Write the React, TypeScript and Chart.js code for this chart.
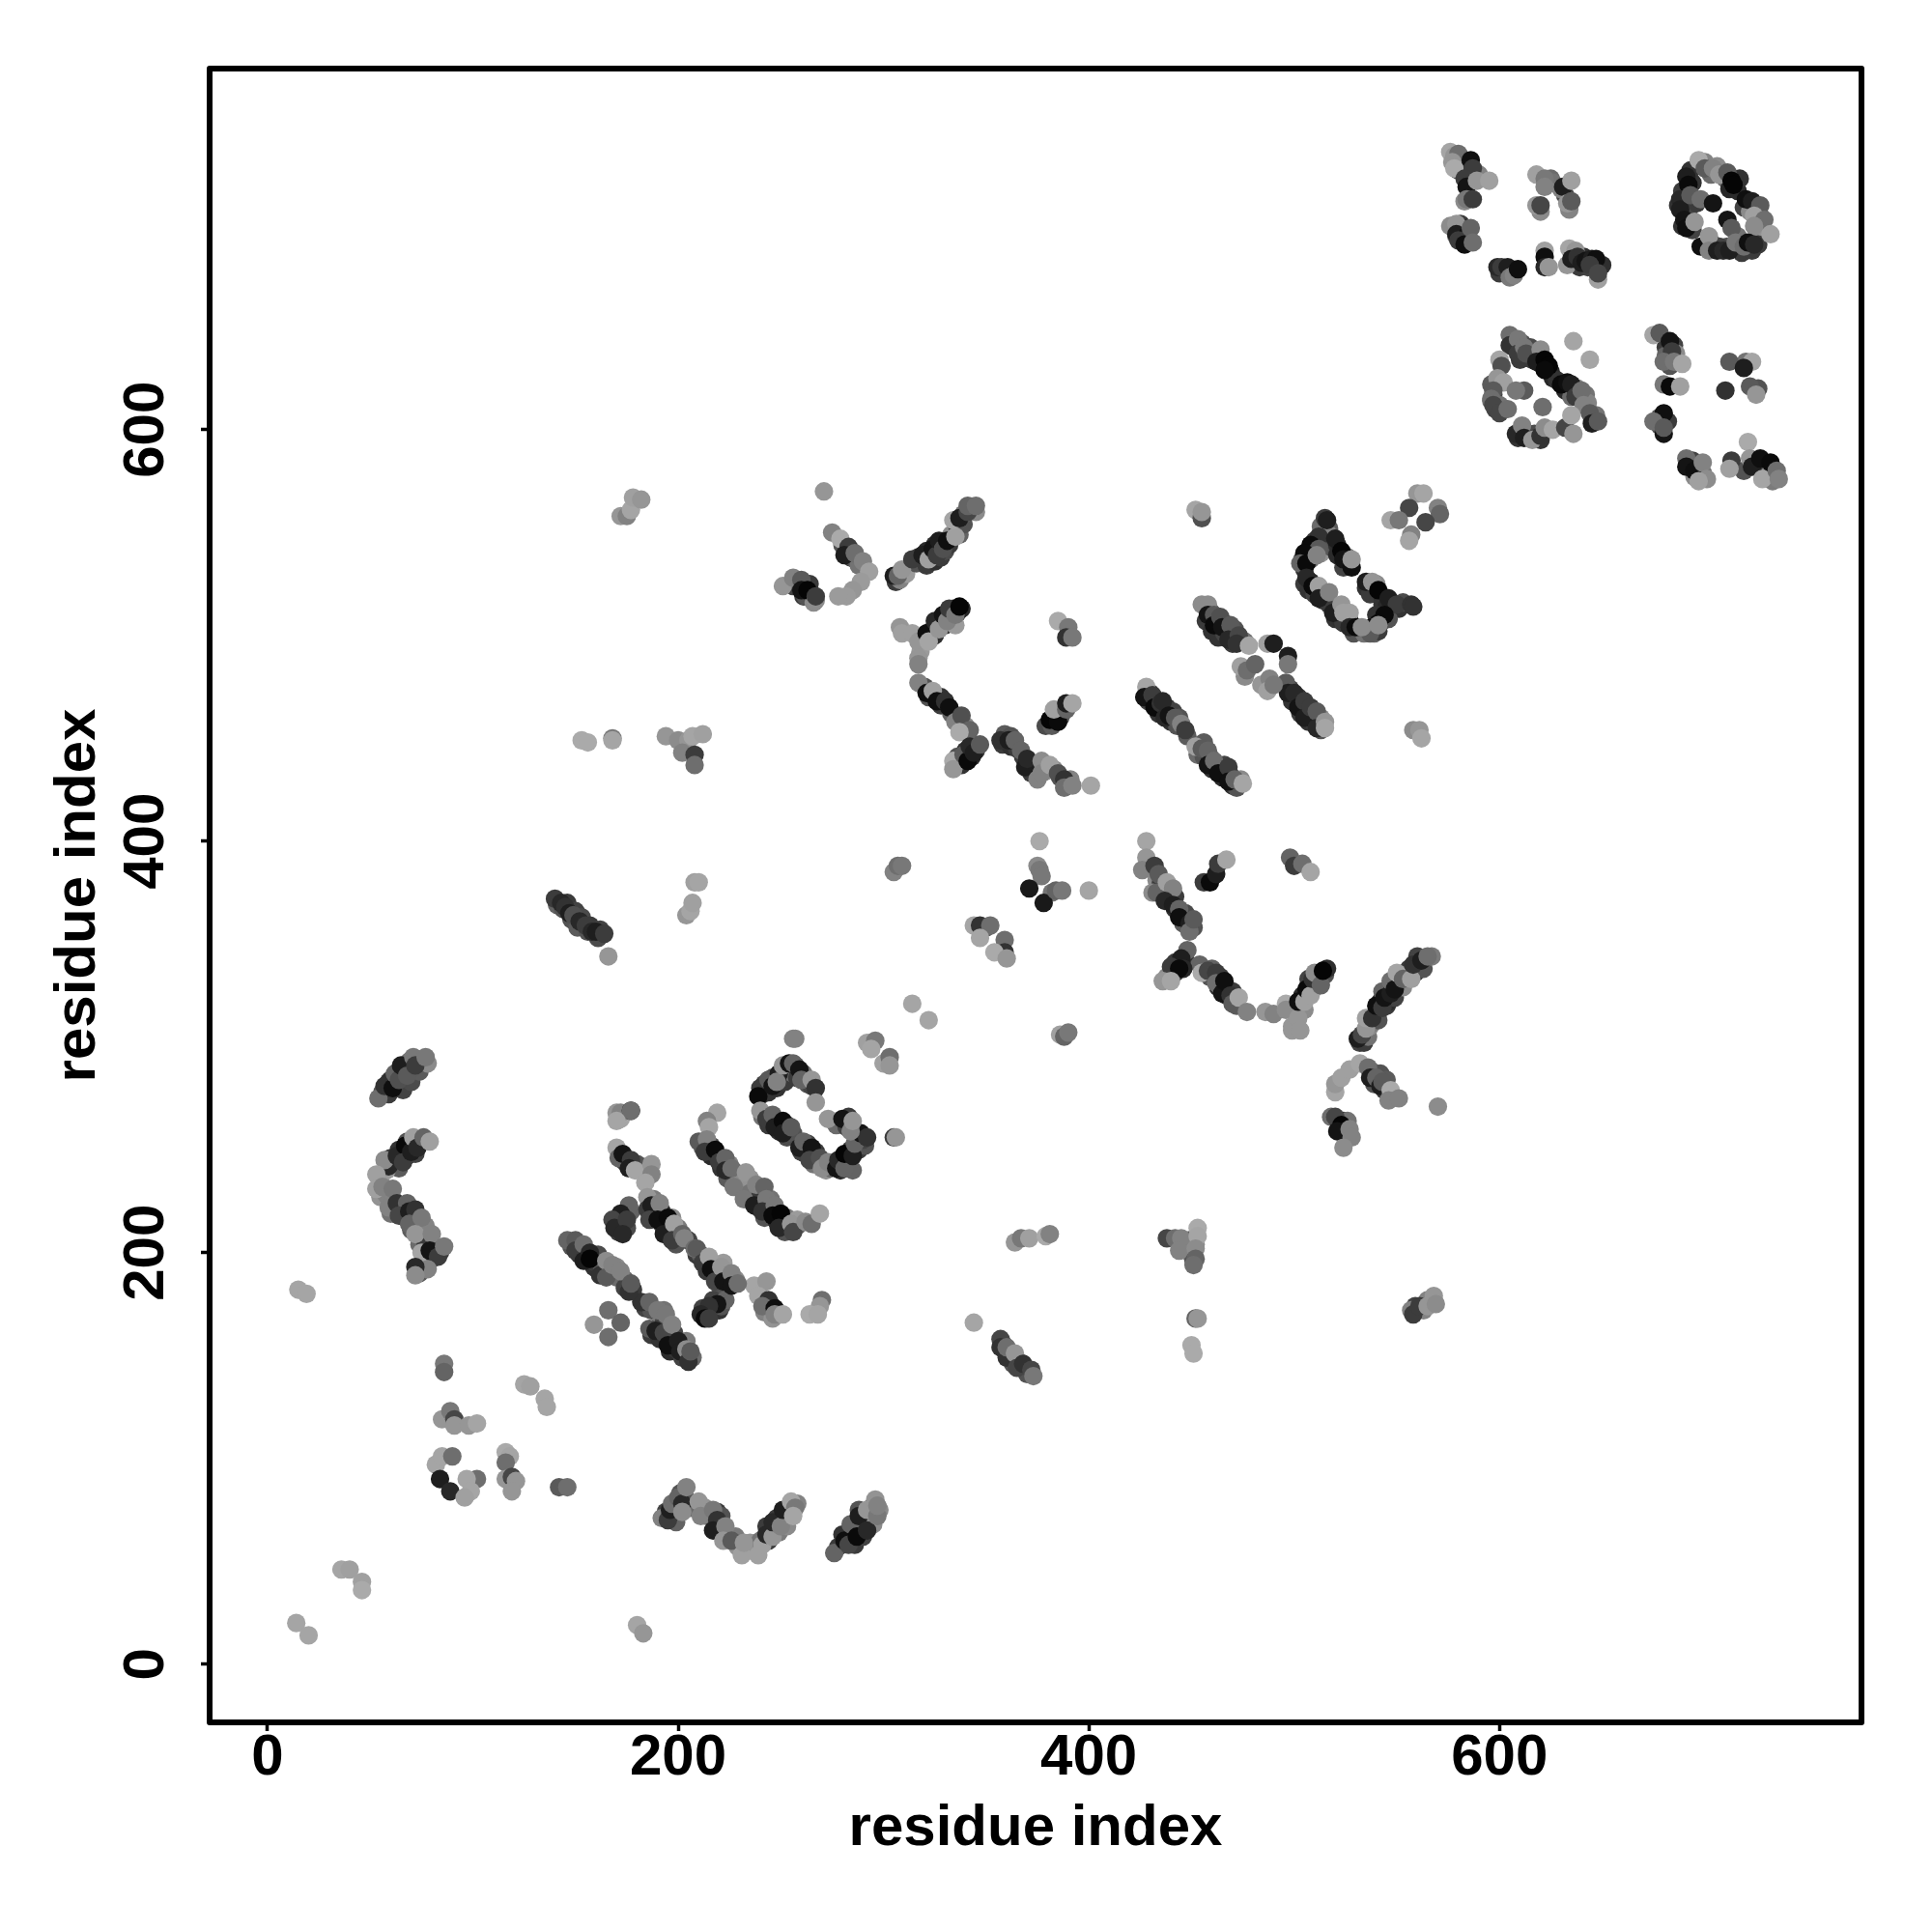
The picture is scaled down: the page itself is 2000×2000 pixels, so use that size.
import React, { useEffect, useRef } from "react";
import Chart from "chart.js/auto";

type P = [number, number, number]; // residue i, residue j, grey level

const xTickValues = [0, 200, 400, 600];
const yTickValues = [0, 200, 400, 600];
const axisTitle = "residue index";

const farCornerFill: P[] = [[582,729,30],[580,726,50],[585,725,40],[587,723,70],[590,724,120],[579,697,20],[582,698,20],[581,700,30],[584,698,10],[579,694,90],[603,676,50],[600,676,30],[625,722,90],[626,720,100],[620,706,130],[632,714,50],[634,707,120],[636,682,100],[639,679,30],[641,684,15],[643,679,40],[646,679,50],[650,680,15]];
const topRingFill: P[] = [[689,716,30],[687,709,20],[692,706,40],[692,701,15],[689,699,20],[694,720,20],[693,726,20],[700,730,120],[703,724,90],[706,728,130],[710,722,100],[712,717,5],[716,716,10],[717,722,20],[719,708,40],[722,706,130],[727,704,60],[728,699,40],[726,696,140],[716,694,100],[711,689,60],[704,690,20],[707,689,40],[715,688,90],[718,686,30],[723,687,30],[726,690,30],[694,697,40],[690,710,60],[696,710,30]];
const lowerRingFill: P[] = [[607,640,40],[611,642,60],[610,634,30],[615,640,50],[616,634,30],[620,632,20],[625,628,10],[626,625,5],[628,624,20],[632,619,10],[635,616,90],[638,620,130],[642,617,100],[643,613,120],[645,607,80],[647,607,100],[596,622,70],[597,617,40],[598,610,40],[596,614,90],[600,612,100],[609,596,20],[614,598,40],[617,598,50],[618,596,30],[620,595,20],[624,600,120]];
const lowerRightFill: P[] = [[681,640,30],[681,636,80],[685,641,40],[683,635,100],[683,631,60],[686,637,130],[682,604,30],[678,606,60],[678,602,50],[692,585,40],[694,585,40],[697,581,20],[695,577,130],[699,579,100],[725,584,20],[730,581,30],[732,579,130],[733,575,110],[719,580,60],[720,633,100],[726,620,60]];
const midRectangleFill: P[] = [[513,553,90],[517,552,70],[510,546,30],[514,546,20],[516,550,120],[507,541,20],[509,540,15],[511,542,30],[504,537,30],[505,532,20],[508,537,90],[513,540,140],[518,543,60],[521,544,15],[521,539,10],[525,535,30],[526,538,90],[524,533,40],[505,525,30],[507,522,20],[508,526,10],[510,520,40],[514,517,20],[517,515,30],[520,508,20],[521,512,40],[523,507,15],[524,506,30],[527,507,20],[529,501,60],[534,501,100],[535,523,20],[537,520,30],[540,525,130],[543,519,15],[543,515,20],[545,514,10],[547,512,30],[548,515,40],[551,513,20],[553,516,50],[539,501,80],[540,510,20],[541,502,30],[543,507,15],[546,508,60]];
const midBandFill: P[] = [[457,507,30],[459,512,50],[460,502,20],[462,507,15],[463,499,20],[466,506,60],[466,501,40],[469,501,30],[470,496,30],[471,503,60],[474,498,70],[476,497,100],[476,480,130],[498,474,40],[499,468,20],[502,470,20],[503,462,30],[504,466,15],[506,462,50],[507,458,20],[509,460,60],[510,457,30],[513,454,60],[513,460,130]];
const crossBandFill: P[] = [[429,468,40],[430,472,30],[433,468,30],[434,462,20],[436,464,20],[438,465,30],[440,458,20],[441,463,40],[443,456,60],[444,460,60],[448,451,70],[453,442,90],[456,441,60],[456,448,70],[459,441,30],[460,435,20],[463,437,20],[465,431,10],[466,437,40],[469,432,50],[470,427,15],[472,426,60],[474,430,130],[336,441,60],[338,437,20],[340,444,20],[343,441,10],[345,444,30],[358,447,30],[359,452,70],[362,446,15],[362,451,60],[365,445,30],[368,441,30],[372,437,15],[372,433,30],[374,436,100],[375,435,130],[379,434,140],[383,435,130],[386,431,60],[391,430,120]];
const upperFill: P[] = [[323,502,20],[325,500,15],[327,506,10],[330,505,20],[331,510,15],[333,507,30],[334,513,40],[336,511,50],[335,505,150],[338,513,5],[318,492,150],[322,470,60],[325,470,15],[328,470,20],[328,466,30],[333,462,80],[336,461,110],[340,456,130],[320,475,60],[306,526,30],[308,527,120],[311,530,150],[316,535,60],[317,538,30],[321,534,30],[321,541,10],[323,537,10],[325,544,15],[325,536,15],[328,538,30],[328,544,30],[330,541,50],[332,544,30],[333,549,130],[336,553,30],[337,549,80],[339,554,60],[339,559,100],[343,561,110],[345,560,130],[280,544,60],[282,541,40],[284,538,30],[286,537,60],[288,534,100],[256,524,40],[258,525,30],[261,519,30],[262,519,60],[265,520,15],[266,516,130],[264,525,30]];
const contactFill: P[] = [[433,381,130],[435,379,30],[436,374,20],[438,374,60],[440,372,100],[442,373,30],[442,367,20],[446,364,30],[446,360,70],[447,365,50],[451,358,60],[447,342,15],[442,341,30],[442,336,20],[441,336,70],[438,334,130],[459,334,60],[460,338,80],[463,329,15],[464,334,30],[467,329,30],[467,325,15],[470,327,30],[471,323,20],[472,320,70],[503,318,15],[504,325,10],[505,318,130],[507,329,20],[507,333,40],[509,328,30],[511,334,20],[511,330,140],[513,334,30],[515,335,60],[516,338,15],[532,302,40],[534,302,30],[536,305,100],[537,310,130],[537,311,110],[540,316,50],[541,313,60],[542,322,15],[545,320,30],[546,322,10],[546,328,20],[549,324,40],[549,332,30],[551,329,10],[551,335,130],[553,329,130],[555,336,100],[556,338,30],[559,336,30],[560,344,40],[563,338,60],[567,344,110],[538,288,90],[539,282,60],[542,287,60],[544,279,30],[545,284,70],[524,264,15],[525,261,10],[526,258,60],[526,264,100],[382,375,100],[375,388,130],[350,358,70],[383,461,30],[386,460,40],[387,462,70],[379,456,50]];
const lowerMidFill: P[] = [[447,205,120],[449,206,70],[450,204,140],[450,199,120],[452,204,130],[451,196,60],[358,156,60],[362,150,50],[363,146,60],[366,147,110],[370,141,60],[559,174,40],[563,172,120],[565,177,120]];
const sheetFill: P[] = [[187,219,15],[188,226,110],[189,219,40],[192,220,10],[192,214,30],[194,213,20],[196,211,10],[197,217,130],[199,208,30],[200,212,110],[199,204,60],[205,206,40],[209,199,30],[211,199,70],[213,196,100],[214,191,30],[217,195,130],[218,191,10],[220,189,20],[223,187,15],[220,184,60],[224,190,120],[228,187,130],[222,195,150],[217,177,40],[216,172,30],[220,172,20],[212,173,40],[221,174,60],[243,172,70],[245,175,30],[242,171,120],[239,183,170],[249,170,60],[246,168,140],[170,216,40],[172,213,20],[174,218,40],[171,210,30],[175,212,50],[177,220,80],[173,245,30],[175,243,40],[178,241,30],[180,243,60],[172,265,165]];
const sheetBandFill: P[] = [[212,251,60],[216,247,10],[216,252,40],[221,241,20],[219,247,30],[224,236,70],[225,243,120],[228,239,120],[230,235,130],[235,236,140],[235,229,100],[239,222,40],[240,228,30],[242,217,60],[244,220,20],[245,226,100],[248,215,10],[248,220,30],[251,215,5],[252,213,20],[252,210,60],[253,217,110],[258,213,80],[258,216,150]];
const sheetRectFill: P[] = [[241,277,30],[242,282,40],[244,278,20],[246,285,60],[248,280,20],[251,287,40],[252,283,30],[254,289,60],[256,287,90],[257,291,50],[258,285,30],[261,287,100],[263,282,60],[265,281,40],[241,266,100],[244,262,30],[248,264,60],[249,259,15],[253,262,30],[253,256,50],[256,258,60],[262,248,20],[260,249,40],[263,253,40],[267,249,30],[266,243,100],[270,244,50],[272,240,140],[274,241,90],[279,240,10],[280,243,20],[283,243,20],[283,246,30],[284,250,20],[285,240,80],[288,250,30],[287,254,15],[291,252,60],[290,255,40],[277,262,90],[282,261,40],[283,266,30]];
const sheetLowerFill: P[] = [[148,203,60],[152,199,20],[152,204,80],[155,198,20],[159,193,20],[159,199,70],[160,195,30],[163,192,70],[161,199,50],[167,190,110],[170,188,90],[174,187,90],[174,183,40],[178,182,30],[170,193,130],[184,173,40],[187,172,60],[187,160,30],[191,165,110],[191,158,20],[193,166,40],[195,162,80],[197,159,30],[196,152,10],[198,161,40],[199,153,20],[202,155,20],[202,149,40],[204,150,60],[204,157,110],[207,149,90],[193,172,100]];
const leftFill: P[] = [[56,278,60],[59,283,40],[59,277,30],[63,283,70],[66,279,40],[66,288,20],[70,283,50],[70,290,60],[74,288,70],[74,293,90],[78,292,130],[69,293,100],[60,284,15],[60,246,30],[62,243,50],[64,250,20],[68,247,30],[68,254,60],[72,248,40],[74,254,70],[64,241,70],[58,240,150],[55,236,150],[55,227,140],[58,228,120],[61,226,120],[60,219,100],[65,221,30],[67,217,40],[71,218,20],[72,213,110],[74,212,130],[77,213,120],[70,211,70],[74,204,90],[77,205,30],[80,197,30],[81,203,40],[84,200,30],[76,195,50],[74,190,70],[141,369,80],[144,367,60],[146,370,30],[148,362,60],[150,366,40],[151,358,70],[153,363,50],[156,356,60],[157,359,30],[161,353,50],[162,357,40]];
const stripFill: P[] = [[194,74,40],[198,73,15],[199,76,20],[201,83,60],[204,80,60],[199,69,80],[206,76,90],[213,76,140],[214,72,90],[219,74,30],[220,68,20],[221,72,60],[224,63,40],[228,62,110],[229,57,140],[236,55,160],[235,59,140],[240,60,100],[244,60,30],[243,67,30],[247,65,20],[248,71,30],[249,64,110],[252,71,20],[254,75,50],[253,67,130],[258,78,120],[278,57,30],[280,63,20],[285,64,15],[286,58,30],[289,67,15],[290,62,40],[288,75,60],[293,70,20],[295,68,130],[294,76,80],[298,75,130],[296,80,140]];

const farCornerA: P[] = [[576,735,165],[578,733,150],[580,734,110],[577,730,150],[578,727,170],[586,731,15],[587,727,60],[583,722,60],[584,718,20],[589,721,150],[595,721,160],[583,711,140],[584,712,120],[587,712,60],[576,699,140],[579,700,150],[579,695,30],[584,694,15],[580,692,60],[583,690,15],[586,698,100],[587,691,110],[599,679,40],[601,679,60],[604,679,30],[605,674,120],[607,675,130],[609,678,15]];
const farCornerB: P[] = [[618,724,160],[622,722,120],[622,718,130],[618,709,150],[620,709,70],[630,717,130],[631,718,30],[635,721,160],[633,710,150],[635,711,90],[622,687,160],[622,684,15],[622,679,40],[624,679,150],[634,688,165],[637,687,150],[633,680,150],[635,683,30],[638,684,50],[640,681,30],[642,682,20],[645,683,30],[647,683,15],[644,680,60],[648,673,160],[648,676,70]];
const topRing: P[] = [[697,731,170],[700,727,90],[704,727,130],[707,724,150],[711,725,90],[691,723,30],[692,719,10],[688,712,40],[688,707,30],[690,702,20],[691,698,15],[693,714,90],[695,701,150],[698,712,110],[704,710,20],[713,721,5],[714,719,5],[720,712,15],[723,711,30],[727,709,90],[724,704,160],[729,702,110],[724,699,140],[732,695,160],[711,702,20],[713,698,90],[698,689,15],[702,694,150],[702,687,130],[706,687,30],[709,687,40],[712,687,30],[715,691,120],[719,689,110],[721,691,15],[724,690,40]];
const lowerRing: P[] = [[605,646,110],[605,641,50],[609,644,120],[609,637,60],[612,640,120],[613,637,80],[620,639,140],[618,633,30],[622,634,5],[624,631,5],[622,629,10],[630,622,10],[633,623,15],[635,622,30],[637,616,60],[640,619,110],[641,612,130],[644,608,90],[645,603,30],[648,604,90],[636,643,165],[644,634,165],[600,634,165],[601,631,80],[599,625,150],[602,623,160],[597,619,90],[596,615,110],[597,612,70],[600,608,70],[604,610,110],[612,619,90],[608,619,120],[621,611,110],[608,598,40],[611,602,130],[612,596,30],[616,595,150],[620,597,50],[622,601,140],[626,600,165],[632,601,70],[635,607,165],[636,598,150]];
const lowerRight: P[] = [[675,646,165],[678,647,90],[683,643,20],[684,638,60],[680,633,110],[685,633,120],[689,632,165],[680,622,120],[683,621,10],[688,621,160],[680,608,15],[675,604,110],[680,598,20],[680,601,90],[712,633,90],[723,633,165],[719,630,30],[710,619,50],[722,621,90],[725,617,150],[691,586,110],[691,582,20],[695,580,15],[699,584,130],[701,576,140],[697,575,160],[713,585,60],[712,581,160],[721,594,170],[722,586,150],[723,582,30],[727,586,15],[732,584,10],[728,576,165],[735,580,110],[736,576,130]];

const midDiamond: P[] = [[560,569,150],[563,569,165],[556,562,70],[570,562,130],[571,559,100],[564,555,70],[547,556,165],[551,556,120],[557,549,130],[556,546,165]];
const midSmall: P[] = [[452,561,165],[455,557,80],[455,560,150],[558,454,140],[561,454,150],[562,450,165]];
const midRectangle: P[] = [[515,557,60],[516,556,30],[512,548,50],[520,547,30],[508,544,10],[512,542,90],[505,540,10],[503,535,100],[506,535,10],[511,539,130],[523,541,5],[524,537,20],[528,533,15],[528,537,150],[506,528,40],[509,524,10],[512,524,160],[512,518,30],[517,521,130],[519,511,30],[523,515,150],[524,511,160],[527,511,160],[527,504,40],[530,504,10],[535,526,30],[538,526,150],[541,522,5],[546,518,30],[550,515,60],[544,510,10],[541,506,10],[538,504,15],[537,501,90],[533,504,140],[541,505,140],[557,515,50],[558,514,50]];
const midBandUpper: P[] = [[455,515,140],[458,515,140],[458,510,20],[461,510,90],[461,505,10],[464,509,80],[465,504,20],[469,505,90],[468,498,40],[473,500,70],[472,496,50],[478,495,165],[487,496,160],[490,496,30],[497,490,30],[497,486,120],[474,485,160],[477,483,110],[481,486,100],[484,476,150],[488,479,130],[487,473,160],[490,476,120]];
const midBandLower: P[] = [[496,477,90],[497,472,30],[500,472,40],[502,465,20],[505,468,60],[505,460,30],[508,465,60],[511,463,90],[511,455,40],[515,458,150],[515,455,165]];
const crossBandA: P[] = [[428,475,165],[427,470,20],[431,471,60],[432,465,10],[435,467,50],[436,468,40],[437,460,40],[439,461,20],[442,460,90],[445,457,130],[447,454,60],[452,446,160],[455,445,90],[458,444,100],[458,437,20],[461,439,110],[463,433,15],[468,436,60],[468,429,15],[471,430,100],[475,428,165]];

const upperBranch: P[] = [[271,570,150],[275,550,130],[279,547,170],[283,543,60],[281,539,30],[286,540,110],[290,536,130],[293,531,160],[289,526,155],[285,522,150],[282,519,155],[278,519,155],[251,524,150],[256,528,130],[260,527,90],[260,522,20],[263,522,5],[267,517,140],[267,519,60]];
const upperBand: P[] = [[305,529,30],[307,529,100],[309,532,150],[314,537,60],[319,539,30],[322,537,160],[324,542,20],[326,539,60],[327,546,30],[329,542,80],[331,546,15],[335,548,160],[334,556,165],[337,557,30],[341,560,70],[341,563,100],[345,563,110]];
const secondBand: P[] = [[308,504,150],[309,501,160],[314,501,160],[317,497,150],[321,501,15],[322,497,165],[325,507,40],[327,503,150],[329,510,20],[331,507,130],[332,513,60],[335,510,120],[337,514,5],[317,489,150],[317,486,130],[317,477,130],[321,472,15],[324,473,160],[326,468,15],[330,468,50],[332,465,15],[335,458,130],[338,461,80],[342,454,100],[337,453,170]];
const crossBandB: P[] = [[334,439,170],[334,435,150],[339,442,90],[341,439,10],[342,446,40],[344,443,30],[347,447,90],[357,449,50],[361,449,30],[364,449,100],[367,444,100],[369,436,30],[370,440,40],[375,430,130],[377,439,140],[377,433,130],[381,437,160],[385,433,80],[388,430,50],[388,426,110],[392,427,130],[401,427,165]];
const midTinyA: P[] = [[385,507,170],[390,504,120],[389,499,50],[392,499,120],[382,456,90],[381,459,5],[385,458,10],[383,464,160],[389,464,100],[389,467,30],[392,467,165]];

const contactX: P[] = [[428,400,165],[428,392,150],[426,386,130],[432,388,60],[434,384,90],[431,375,140],[433,375,100],[438,380,160],[441,377,130],[437,371,40],[441,369,30],[444,367,100],[444,363,15],[449,360,30],[449,356,110],[451,362,90],[448,347,100],[445,343,30],[446,338,40],[440,339,60],[444,338,10],[436,332,150],[440,332,165]];
const contactTail: P[] = [[454,340,100],[455,336,170],[458,337,70],[462,336,60],[462,331,110],[465,326,20],[466,332,15],[469,325,50],[470,321,90],[473,324,165],[477,317,130],[486,317,150],[490,316,130],[496,321,170],[496,318,140],[499,310,150],[499,308,150],[502,314,150],[503,308,150],[502,322,15],[505,322,160],[506,328,10],[508,325,160],[509,333,50],[510,336,140],[513,330,100],[514,337,5]];
const contactUpper: P[] = [[456,380,60],[459,380,10],[462,384,30],[463,389,60],[467,391,165],[498,392,100],[500,388,60],[504,389,110],[508,385,165]];
const contactLong: P[] = [[531,304,30],[533,306,70],[535,309,150],[535,314,160],[538,314,50],[540,320,15],[543,319,60],[543,327,100],[544,324,20],[547,326,30],[547,332,110],[549,328,20],[550,336,165],[553,333,100],[557,333,160],[558,340,50],[562,342,30],[565,344,110]];
const contactLower: P[] = [[520,278,165],[520,282,150],[523,285,160],[527,289,160],[532,292,165],[536,290,110],[537,285,30],[540,285,100],[542,281,30],[543,283,90],[547,279,170],[546,274,130],[551,275,130],[570,271,140],[518,266,110],[520,266,70],[523,262,5],[521,259,20],[527,260,130],[528,256,130],[524,251,140]];
const contactDiamond: P[] = [[376,400,170],[376,386,120],[377,383,120],[371,377,25],[378,370,25],[384,376,100],[387,376,120],[400,376,165],[386,306,160],[388,305,100],[390,307,120],[344,359,165],[347,359,50],[352,359,110],[347,353,165],[359,352,110],[359,346,50],[354,346,170],[360,343,150]];

const lowerMidA: P[] = [[364,205,150],[367,207,120],[371,207,160],[379,208,170],[381,209,130],[438,207,70],[442,207,110],[445,207,130],[444,201,130],[453,212,170],[453,208,165],[452,202,140],[452,197,100],[451,194,110],[452,168,100],[453,168,150],[450,155,170],[451,151,170],[344,166,165]];
const lowerMidB: P[] = [[357,158,70],[357,154,50],[360,149,50],[360,154,110],[364,151,150],[365,144,70],[368,146,50],[372,143,70],[373,140,120],[557,172,130],[558,170,60],[561,174,60],[565,174,150],[568,179,150],[569,175,140]];

const sheetEdge: P[] = [[256,304,130],[257,304,130],[292,302,160],[296,303,120],[294,299,165],[300,292,160],[303,295,110],[303,291,150],[305,256,60],[306,256,150]];
const sheetRect: P[] = [[240,280,60],[239,276,10],[244,284,90],[246,281,20],[249,287,30],[248,283,130],[251,291,150],[254,292,20],[256,292,100],[259,289,20],[260,284,100],[265,284,150],[267,280,50],[267,273,150],[240,269,150],[243,265,60],[246,267,100],[247,261,30],[251,264,10],[251,258,30],[255,261,90],[259,251,30],[261,254,100],[265,251,20],[264,245,70],[269,246,80],[270,241,140],[273,244,130],[277,241,20],[278,245,40],[281,241,100],[281,248,5],[285,247,30],[286,253,100],[289,258,20],[292,256,50],[273,265,150],[280,265,20],[284,259,130],[285,264,150]];
const sheetBand: P[] = [[219,268,165],[214,264,130],[215,261,165],[210,254,90],[214,255,130],[213,249,60],[218,250,10],[220,244,60],[223,246,100],[223,240,40],[226,241,110],[227,232,120],[233,239,150],[232,226,120],[237,223,30],[238,233,130],[242,232,100],[243,226,120],[241,220,50],[247,223,120],[246,218,10],[250,219,5],[249,212,40],[255,214,150],[256,210,70],[262,215,140],[265,214,110],[269,219,165]];
const sheetLeft: P[] = [[170,268,150],[172,268,130],[177,269,30],[177,269,110],[170,264,165],[170,251,165],[171,246,100],[173,248,20],[177,245,60],[176,241,30],[179,240,165],[187,243,150],[187,238,130],[184,234,165]];
const sheetSmall: P[] = [[176,223,100],[172,219,30],[168,216,70],[169,212,40],[175,216,60],[173,209,40]];
const sheetMidBand: P[] = [[185,227,150],[185,221,60],[187,223,30],[191,224,130],[186,216,70],[190,216,15],[195,217,10],[193,209,30],[198,214,160],[197,206,60],[202,209,100],[203,207,130],[208,202,110],[209,202,90],[212,195,60],[215,198,160],[216,192,15],[218,186,70],[221,193,150],[222,186,20],[226,190,130],[226,184,20],[229,185,110]];
const sheetBits: P[] = [[223,177,100],[219,175,20],[215,174,50],[211,170,40],[213,168,10],[215,168,60],[237,184,165],[243,186,150],[239,179,165],[244,177,50],[241,174,110],[247,173,15],[247,170,130],[251,170,165],[270,177,110],[269,174,150],[264,170,170],[268,170,165]];
const sheetLowerA: P[] = [[146,206,100],[150,206,90],[150,201,60],[154,204,110],[154,196,30],[157,200,40],[157,197,5],[162,189,50],[165,196,140],[165,188,90],[168,194,130],[172,191,130],[176,181,50],[177,185,90]];
const sheetLowerB: P[] = [[182,176,50],[186,176,100],[186,163,90],[189,162,30],[190,172,120],[194,170,120],[193,161,70],[197,165,130],[195,155,15],[200,157,30],[201,152,30],[204,153,140],[205,147,50],[206,152,90],[166,172,110],[159,165,150],[172,166,100],[166,159,110]];

const leftStrand: P[] = [[54,275,110],[57,281,50],[61,280,15],[62,287,100],[64,284,80],[65,291,30],[68,286,90],[71,295,120],[72,291,60],[77,295,120]];
const leftHelix: P[] = [[59,242,40],[57,245,140],[63,247,40],[67,252,10],[66,244,60],[70,249,30],[71,256,160],[73,251,40],[76,256,100],[79,254,160],[53,238,160],[53,231,160],[56,232,130],[61,231,120],[59,222,130],[63,224,50],[68,224,100],[64,218,70],[69,220,30],[72,221,50],[69,214,100],[75,217,120],[72,209,150],[80,209,130],[75,200,165],[79,201,20],[83,198,60],[86,203,120],[78,192,130],[72,193,40],[72,189,140]];

const nearOrigin: P[] = [[86,146,120],[86,142,100],[125,136,165],[128,135,160],[135,129,165],[136,125,165],[85,119,150],[89,123,120],[91,119,70],[91,116,150],[98,116,150],[102,117,165],[82,97,165],[85,101,165],[90,101,110],[84,90,30],[89,84,40],[102,90,110],[97,90,165],[99,84,165],[96,81,160],[116,103,170],[118,101,165],[116,98,110],[116,90,150],[119,91,70],[121,89,150],[119,84,150],[142,86,90],[146,86,110]];
const bottomStripA: P[] = [[192,71,130],[195,70,60],[196,75,30],[197,78,110],[200,81,100],[202,78,40],[204,86,130],[202,74,140],[210,79,150],[211,72,130],[217,75,120],[219,70,50],[217,65,30],[223,67,130],[222,60,150],[226,60,90],[231,53,160],[232,59,150],[239,53,160],[241,58,160],[243,63,40],[246,62,150],[246,69,40],[250,67,130],[251,75,30],[255,79,165],[257,76,120],[256,72,165]];
const bottomStripB: P[] = [[276,54,100],[281,60,15],[283,58,70],[284,68,100],[287,62,10],[288,72,30],[292,65,40],[292,75,150],[297,72,120],[297,77,130]];
const scattered: P[] = [[36,46,165],[40,46,160],[46,40,160],[46,36,170],[14,20,165],[20,14,165],[180,19,165],[183,15,150],[15,182,165],[19,180,165],[153,449,170],[156,448,170],[168,450,120],[168,449,165],[194,451,150],[200,449,140],[205,449,150],[207,451,165],[212,452,160],[202,443,130],[208,442,60],[208,437,110],[172,558,150],[175,558,130],[177,561,165],[178,567,160],[182,566,150],[166,344,150],[204,364,150],[206,366,165],[207,370,160],[208,380,160],[210,380,165],[305,385,130],[307,388,110],[309,388,120],[314,321,165],[322,313,165]];
const nearStrand: P[] = [[140,372,60],[143,370,40],[145,368,50],[147,365,30],[149,364,80],[152,361,40],[155,359,60],[158,356,40],[160,356,30],[164,355,60]];

const fillClusters: P[][] = [farCornerFill, topRingFill, lowerRingFill, lowerRightFill, midRectangleFill, midBandFill, crossBandFill, upperFill, contactFill, lowerMidFill, sheetFill, sheetBandFill, sheetRectFill, sheetLowerFill, leftFill, stripFill];
const clusters: P[][] = [nearOrigin, scattered, nearStrand, leftStrand, leftHelix, bottomStripA, bottomStripB, sheetLowerA, sheetLowerB, sheetMidBand, sheetSmall, sheetLeft, sheetBits, sheetBand, sheetRect, sheetEdge, lowerMidA, lowerMidB, contactDiamond, contactX, contactTail, contactUpper, contactLong, contactLower, crossBandA, crossBandB, midTinyA, secondBand, upperBand, upperBranch, midBandUpper, midBandLower, midRectangle, midDiamond, midSmall, lowerRing, lowerRight, farCornerA, farCornerB, topRing];

const frame = {
  id: "frame",
  afterDatasetsDraw(chart: any) {
    const { ctx, chartArea: a } = chart;
    ctx.save();
    ctx.strokeStyle = "#000";
    ctx.lineWidth = 6;
    ctx.lineJoin = "round";
    ctx.strokeRect(a.left, a.top, a.right - a.left, a.bottom - a.top);
    ctx.restore();
  },
};

const grey = (g: number) => `rgb(${g},${g},${g})`;
const underlayGrey = (g: number) => grey(Math.round(Math.min(165, g * 0.8 + 35)));

function dataset(c: P[], shade: (g: number) => string) {
  return {
    data: c.map((p) => ({ x: p[0], y: p[1] })),
    pointBackgroundColor: c.map((p) => shade(p[2])),
    pointBorderWidth: 0,
    pointRadius: 9.6,
    showLine: false,
  };
}

export default function App() {
  const ref = useRef<HTMLCanvasElement>(null);
  useEffect(() => {
    const font = { family: "'Liberation Sans', Arimo, Helvetica, sans-serif", size: 60, weight: "bold" as const };
    const gridOpts = { drawOnChartArea: false, drawTicks: true, tickLength: 9, tickColor: "#000", tickWidth: 3.5 };
    const chart = new Chart(ref.current as HTMLCanvasElement, {
      type: "scatter",
      data: {
        // Chart.js paints the first dataset last, so the read points stay above the underlay.
        datasets: [...clusters.map((c) => dataset(c, grey)), ...fillClusters.map((c) => dataset(c, underlayGrey))],
      },
      options: {
        animation: false,
        responsive: false,
        layout: { padding: { top: 71, right: 73, left: 0, bottom: 0 } },
        plugins: { legend: { display: false }, tooltip: { enabled: false } },
        scales: {
          x: {
            type: "linear",
            min: -28.2,
            max: 776.3,
            afterFit: (s: any) => { s.height = 217; },
            afterBuildTicks: (s: any) => { s.ticks = xTickValues.map((value) => ({ value })); },
            border: { display: false },
            grid: gridOpts,
            ticks: { color: "#000", font, padding: -7.5, autoSkip: false, maxRotation: 0, includeBounds: false },
            title: { display: true, text: axisTitle, color: "#000", font, padding: { top: 0, bottom: 71 } },
          },
          y: {
            type: "linear",
            min: -28.3,
            max: 775.5,
            afterFit: (s: any) => { s.width = 217; },
            afterBuildTicks: (s: any) => { s.ticks = yTickValues.map((value) => ({ value })); },
            border: { display: false },
            grid: gridOpts,
            ticks: { color: "#000", font, padding: 5, autoSkip: false, minRotation: 90, maxRotation: 90, crossAlign: "center", includeBounds: false },
            title: { display: true, text: axisTitle, color: "#000", font, padding: { top: 45, bottom: 0 } },
          },
        },
      },
      plugins: [frame],
    } as any);
    return () => chart.destroy();
  }, []);
  return (
    <div style={{ position: "absolute", left: 0, top: 0, width: 2000, height: 2000, background: "#fff" }}>
      <canvas ref={ref} width={2000} height={2000} style={{ display: "block" }} />
    </div>
  );
}
